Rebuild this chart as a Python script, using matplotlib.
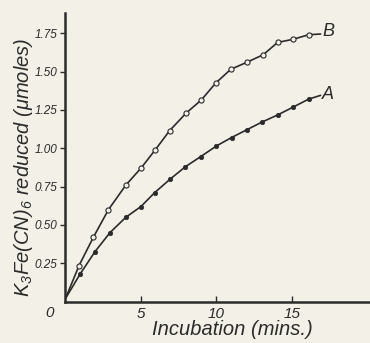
import matplotlib
matplotlib.use("Agg")
import matplotlib.pyplot as plt
import numpy as np

fam = "Liberation Sans"
plt.rcParams["font.family"] = [fam, "DejaVu Sans"]
plt.rcParams["mathtext.fontset"] = "custom"
plt.rcParams["mathtext.it"] = fam + ":italic"
plt.rcParams["mathtext.rm"] = fam + ":italic"
plt.rcParams["mathtext.default"] = "it"

# Data
x_b = [0.9, 1.85, 2.85, 4.0, 5.0, 5.95, 6.9, 8.0, 9.0, 9.95, 10.95, 12.0, 13.1, 14.05, 15.05, 16.1]
y_b = [0.235, 0.42, 0.60, 0.76, 0.87, 0.99, 1.115, 1.23, 1.315, 1.425, 1.515, 1.56, 1.61, 1.69, 1.71, 1.74]
x_a = [0.96, 1.95, 2.95, 4.0, 5.0, 5.9, 6.95, 7.95, 8.95, 10.0, 11.0, 12.0, 13.0, 14.05, 15.05, 16.1]
y_a = [0.178, 0.325, 0.45, 0.55, 0.62, 0.71, 0.80, 0.88, 0.945, 1.015, 1.07, 1.12, 1.17, 1.217, 1.267, 1.32]
x_ticks = [5, 10, 15]
y_ticks = [0.25, 0.50, 0.75, 1.00, 1.25, 1.50, 1.75]
y_tick_labels = ["0.25", "0.50", "0.75", "1.00", "1.25", "1.50", "1.75"]

bg = "#f3f0e7"
ink = "#2b2b2b"

fig = plt.figure(figsize=(3.7, 3.43), dpi=100, facecolor=bg)
ax = fig.add_axes([0.1757, 0.1207, 0.8243, 0.8414])
ax.set_facecolor(bg)

# Curves through origin, with short tail to the label
lx_b = [0] + x_b + [16.9]
ly_b = [0.02] + y_b + [1.745]
lx_a = [0] + x_a + [16.9]
ly_a = [0.02] + y_a + [1.345]
ax.plot(lx_b, ly_b, color=ink, lw=1.2, solid_capstyle="round", solid_joinstyle="round", zorder=2)
ax.plot(lx_a, ly_a, color=ink, lw=1.2, solid_capstyle="round", solid_joinstyle="round", zorder=2)
ax.plot(x_b, y_b, "o", ms=3.7, mfc=bg, mec=ink, mew=0.8, ls="none", zorder=3)
ax.plot(x_a, y_a, "o", ms=3.2, mfc=ink, mec=ink, mew=0.5, ls="none", zorder=3)

ax.text(17.0, 1.76, "B", fontsize=13, style="italic", color=ink, va="center", ha="left")
ax.text(17.0, 1.35, "A", fontsize=13, style="italic", color=ink, va="center", ha="left")

ax.set_xlim(-0.03, 20.17)
ax.set_ylim(0, 1.882)

for s in ["top", "right"]:
    ax.spines[s].set_visible(False)
for s in ["left", "bottom"]:
    ax.spines[s].set_color(ink)
    ax.spines[s].set_linewidth(1.8)

ax.set_xticks(x_ticks)
ax.set_xticklabels([str(t) for t in x_ticks], fontsize=11, style="italic", color=ink)
ax.tick_params(axis="x", direction="in", length=4, width=1, color=ink, pad=4)
ax.set_yticks(y_ticks)
ax.set_yticklabels(y_tick_labels, fontsize=8.5, style="italic", color=ink)
ax.tick_params(axis="y", direction="out", length=3.5, width=1, color=ink, pad=2)

ax.text(-0.05, -0.04, "0", transform=ax.transAxes, fontsize=11, style="italic",
        color=ink, ha="center", va="center")

ax.set_xlabel("Incubation (mins.)", fontsize=14.5, style="italic", color=ink, labelpad=-1, x=0.55)
ax.set_ylabel(r"K$_3$Fe(CN)$_6$ reduced ($\mu$moles)", fontsize=14.5, style="italic",
              color=ink, labelpad=0, y=0.465)

fig.savefig("out.png", dpi=100, facecolor=bg)
